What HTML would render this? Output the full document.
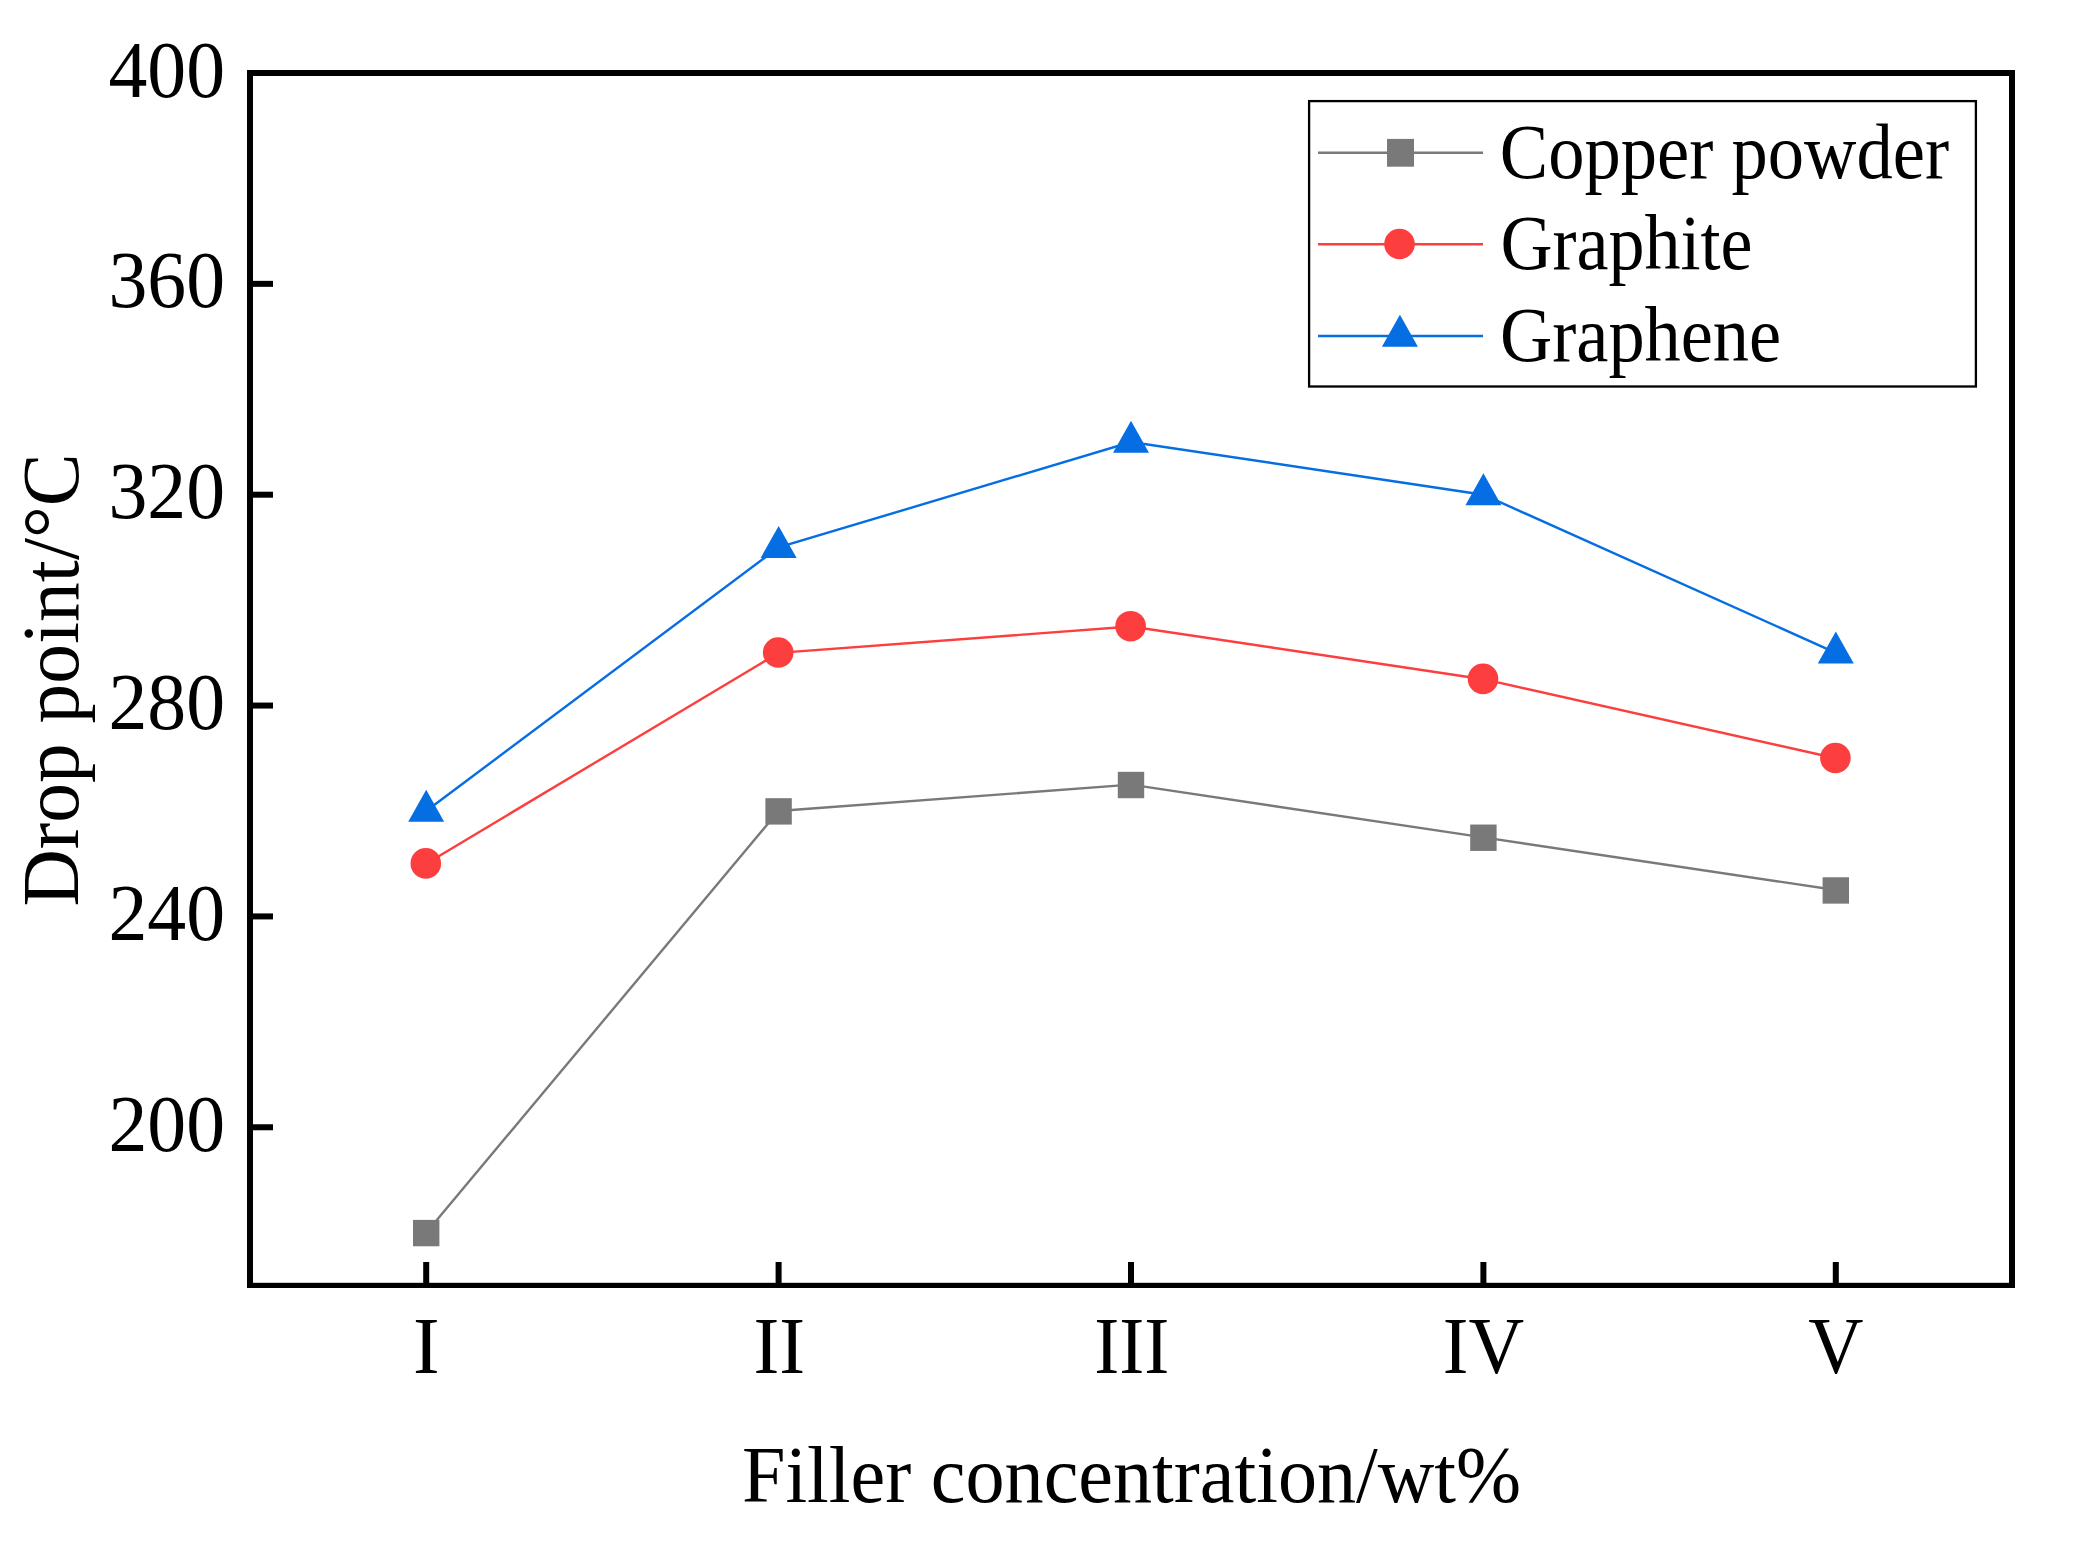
<!DOCTYPE html>
<html lang="en"><head><meta charset="utf-8"><title>Drop point vs filler concentration</title>
<style>
html,body{margin:0;padding:0;background:#fff;}
body{width:2081px;height:1542px;overflow:hidden;}
svg{display:block;}
text{font-family:"Liberation Serif",serif;fill:#000;}
</style></head><body>
<svg width="2081" height="1542" viewBox="0 0 2081 1542">
<rect x="0" y="0" width="2081" height="1542" fill="#ffffff"/>
<polyline points="426.20,1232.69 778.60,810.98 1131.00,784.63 1483.40,837.34 1835.80,890.05" fill="none" stroke="#797979" stroke-width="2.4"/>
<rect x="413.00" y="1219.89" width="26.4" height="26.4" fill="#797979"/>
<rect x="765.40" y="798.18" width="26.4" height="26.4" fill="#797979"/>
<rect x="1117.80" y="771.83" width="26.4" height="26.4" fill="#797979"/>
<rect x="1470.20" y="824.54" width="26.4" height="26.4" fill="#797979"/>
<rect x="1822.60" y="877.25" width="26.4" height="26.4" fill="#797979"/>
<polyline points="426.20,863.70 778.60,652.84 1131.00,626.49 1483.40,679.20 1835.80,758.27" fill="none" stroke="#fd3e3e" stroke-width="2.4"/>
<circle cx="425.80" cy="863.40" r="15.3" fill="#fd3e3e"/>
<circle cx="778.20" cy="652.54" r="15.3" fill="#fd3e3e"/>
<circle cx="1130.60" cy="626.19" r="15.3" fill="#fd3e3e"/>
<circle cx="1483.00" cy="678.90" r="15.3" fill="#fd3e3e"/>
<circle cx="1835.40" cy="757.97" r="15.3" fill="#fd3e3e"/>
<polyline points="426.20,810.98 778.60,547.42 1131.00,441.99 1483.40,494.70 1835.80,652.84" fill="none" stroke="#056ee2" stroke-width="2.4"/>
<polygon points="426.20,789.65 444.20,821.65 408.20,821.65" fill="#056ee2"/>
<polygon points="778.60,526.08 796.60,558.08 760.60,558.08" fill="#056ee2"/>
<polygon points="1131.00,420.66 1149.00,452.66 1113.00,452.66" fill="#056ee2"/>
<polygon points="1483.40,473.37 1501.40,505.37 1465.40,505.37" fill="#056ee2"/>
<polygon points="1835.80,631.51 1853.80,663.51 1817.80,663.51" fill="#056ee2"/>
<rect x="247.0" y="70.0" width="6.0" height="1218.0" fill="#000"/>
<rect x="2009.0" y="70.0" width="6.0" height="1218.0" fill="#000"/>
<rect x="247.0" y="70.0" width="1768.0" height="6.0" fill="#000"/>
<rect x="247.0" y="1282.8" width="1768.0" height="5.20" fill="#000"/>
<rect x="252.0" y="1124.26" width="21.0" height="6" fill="#000"/>
<rect x="252.0" y="913.41" width="21.0" height="6" fill="#000"/>
<rect x="252.0" y="702.56" width="21.0" height="6" fill="#000"/>
<rect x="252.0" y="491.70" width="21.0" height="6" fill="#000"/>
<rect x="252.0" y="280.85" width="21.0" height="6" fill="#000"/>
<rect x="423.20" y="1262" width="6" height="21.80" fill="#000"/>
<rect x="775.60" y="1262" width="6" height="21.80" fill="#000"/>
<rect x="1128.00" y="1262" width="6" height="21.80" fill="#000"/>
<rect x="1480.40" y="1262" width="6" height="21.80" fill="#000"/>
<rect x="1832.80" y="1262" width="6" height="21.80" fill="#000"/>
<text transform="translate(225.00,1150.76) scale(0.9600,1)" font-size="81" text-anchor="end">200</text>
<text transform="translate(225.00,939.91) scale(0.9600,1)" font-size="81" text-anchor="end">240</text>
<text transform="translate(225.00,729.06) scale(0.9600,1)" font-size="81" text-anchor="end">280</text>
<text transform="translate(225.00,518.20) scale(0.9600,1)" font-size="81" text-anchor="end">320</text>
<text transform="translate(225.00,307.35) scale(0.9600,1)" font-size="81" text-anchor="end">360</text>
<text transform="translate(225.00,96.50) scale(0.9600,1)" font-size="81" text-anchor="end">400</text>
<text transform="translate(426.25,1373.00)" font-size="80" text-anchor="middle">I</text>
<text transform="translate(779.25,1373.00) scale(0.9690,1)" font-size="80" text-anchor="middle">II</text>
<text transform="translate(1131.75,1373.00) scale(0.9400,1)" font-size="80" text-anchor="middle">III</text>
<text transform="translate(1483.50,1373.00) scale(0.9640,1)" font-size="80" text-anchor="middle">IV</text>
<text transform="translate(1835.75,1373.00) scale(0.9560,1)" font-size="80" text-anchor="middle">V</text>
<text transform="translate(1131.50,1502.00) scale(0.9770,1)" font-size="80" text-anchor="middle">Filler concentration/wt%</text>
<text transform="translate(78.10,679.90) rotate(-90) scale(0.9870,1)" font-size="80.5" text-anchor="middle">Drop point/°C</text>
<rect x="1309.1" y="101.1" width="666.8" height="285.4" fill="#fff" stroke="#000" stroke-width="2.3"/>
<line x1="1318" y1="152.8" x2="1483" y2="152.8" stroke="#797979" stroke-width="2.5"/>
<rect x="1387" y="138.9" width="27" height="27.8" fill="#797979"/>
<text transform="translate(1499.75,177.60) scale(0.9340,1)" font-size="77.7" text-anchor="start">Copper powder</text>
<line x1="1318" y1="244.3" x2="1483" y2="244.3" stroke="#fd3e3e" stroke-width="2.5"/>
<circle cx="1399.50" cy="244.00" r="15.3" fill="#fd3e3e"/>
<text transform="translate(1500.50,269.00) scale(0.9270,1)" font-size="77.7" text-anchor="start">Graphite</text>
<line x1="1318" y1="336.0" x2="1483" y2="336.0" stroke="#056ee2" stroke-width="2.5"/>
<polygon points="1399.90,314.67 1417.90,346.67 1381.90,346.67" fill="#056ee2"/>
<text transform="translate(1500.00,360.70) scale(0.9310,1)" font-size="77.7" text-anchor="start">Graphene</text>
</svg></body></html>
